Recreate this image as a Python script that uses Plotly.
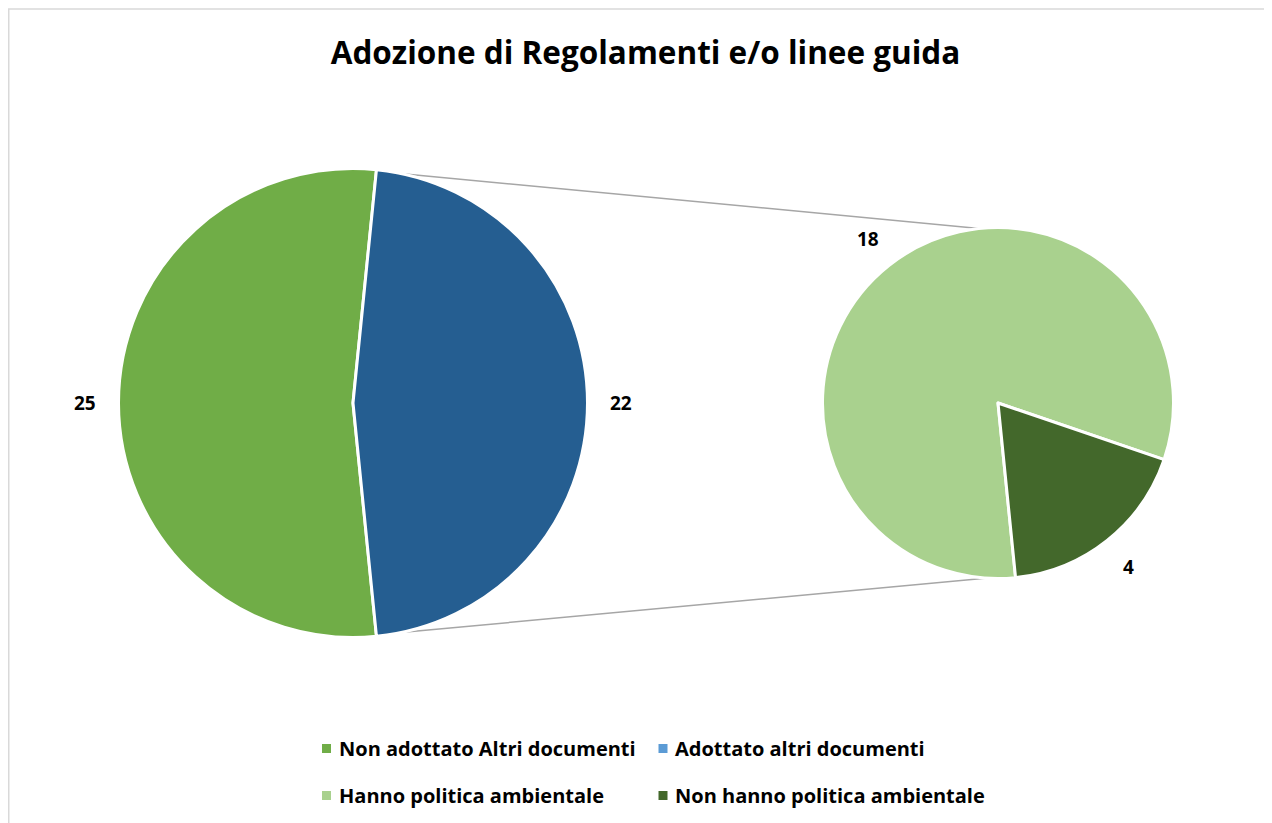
import math
import plotly.graph_objects as go

# ---- data ----
title_text = "Adozione di Regolamenti e/o linee guida"
main_labels = ["Non adottato Altri documenti", "Adottato altri documenti"]
main_values = [25, 22]
sub_labels = ["Hanno politica ambientale", "Non hanno politica ambientale"]
sub_values = [18, 4]

# ---- styles ----
main_colors = ["#70AD47", "#255E91"]
legend_colors = ["#70AD47", "#5B9BD5", "#A9D18E", "#43682B"]
sub_colors = ["#A9D18E", "#43682B"]
FONT = "Open Sans"
W, H = 1272, 823

# geometry (pixels, figure coordinates)
mcx, mcy, mr = 345, 395, 234.5
scx, scy, sr = 990, 395, 175.5

def dom(cx, cy, r):
    return dict(x=[(cx - r) / W, (cx + r) / W],
                y=[(H - cy - r) / H, (H - cy + r) / H])

total_main = sum(main_values)
other_span = main_values[1] / total_main * 360.0
rot = 90 + other_span / 2  # first slice starts where the "other" slice ends

fig = go.Figure()
fig.add_trace(go.Pie(labels=main_labels, values=main_values, sort=False,
                     direction="clockwise", rotation=rot,
                     marker=dict(colors=main_colors, line=dict(color="white", width=3)),
                     textinfo="none", hoverinfo="label+value", showlegend=False,
                     domain=dom(mcx, mcy, mr)))
fig.add_trace(go.Pie(labels=sub_labels, values=sub_values, sort=False,
                     direction="clockwise", rotation=rot,
                     marker=dict(colors=sub_colors, line=dict(color="white", width=3)),
                     textinfo="none", hoverinfo="label+value", showlegend=False,
                     domain=dom(scx, scy, sr)))

def px_to_paper(x, y):
    return x / W, (H - y) / H

annotations = []
shapes = []

LBL_SIZE = 20

def add_labels(values, rotation, cx, cy, r):
    tot = sum(values)
    a = rotation
    for v in values:
        span = v / tot * 360.0
        mid = math.radians(a + span / 2)
        x = cx + (r + 35) * math.sin(mid)
        y = cy - (r + 35) * math.cos(mid)
        px, py = px_to_paper(x, y)
        annotations.append(dict(x=px, y=py, xref="paper", yref="paper", text=str(v),
                                showarrow=False, xanchor="center", yanchor="middle",
                                font=dict(family=FONT, size=LBL_SIZE - 1, color="#000000", weight="bold")))
        a += span

add_labels(main_values, rot, mcx, mcy, mr - 1.5)
add_labels(sub_values, rot, scx, scy, sr - 1.5)

# connector lines from the "other" slice edges to the secondary pie
a_start = math.radians(rot + main_values[0] / total_main * 360.0 - 360.0)
a_end = math.radians(rot)
rr = mr - 1.5
p1 = (mcx + rr * math.sin(a_start), mcy - rr * math.cos(a_start))
p2 = (mcx + rr * math.sin(a_end), mcy - rr * math.cos(a_end))
for p, q in [(p1, (scx + 2, scy - sr + 3)), (p2, (scx + 6, scy + sr - 2))]:
    x0, y0 = px_to_paper(*p)
    x1, y1 = px_to_paper(*q)
    shapes.append(dict(type="line", xref="paper", yref="paper", x0=x0, y0=y0, x1=x1, y1=y1,
                       line=dict(color="#A6A6A6", width=1.5), layer="below"))

# chart border (only top and left visible)
bx0, by0 = px_to_paper(0.75, 1)
bx1, by1 = px_to_paper(W + 20, H + 20)
shapes.append(dict(type="rect", xref="paper", yref="paper", x0=bx0, y0=by1, x1=bx1, y1=by0,
                   line=dict(color="#D9D9D9", width=1.5), layer="below"))

# legend (manual)
all_labels = main_labels + sub_labels
leg_pos = [(318.5, 740.5), (655, 740.5), (318.5, 787.5), (655, 787.5)]
for lab, col, (lx, ly) in zip(all_labels, legend_colors, leg_pos):
    sx0, sy0 = px_to_paper(lx - 4.5, ly - 4.5)
    sx1, sy1 = px_to_paper(lx + 4.5, ly + 4.5)
    shapes.append(dict(type="rect", xref="paper", yref="paper", x0=sx0, y0=sy1, x1=sx1, y1=sy0,
                       fillcolor=col, line=dict(width=0)))
    tx, ty = px_to_paper(lx + 10, ly)
    annotations.append(dict(x=tx, y=ty, xref="paper", yref="paper", text=lab, showarrow=False,
                            xanchor="left", yanchor="middle",
                            font=dict(family=FONT, size=LBL_SIZE, color="#000000", weight="bold")))

fig.update_layout(
    width=W, height=H, margin=dict(l=0, r=0, t=0, b=0),
    paper_bgcolor="white", plot_bgcolor="white",
    title=dict(text=title_text, x=637.5 / W, xanchor="center", y=1 - 44.5 / H, yanchor="middle",
               yref="container", xref="container",
               font=dict(family=FONT, size=31.5, color="#000000", weight="bold")),
    annotations=annotations, shapes=shapes, showlegend=False,
)

fig.write_html("out.html")
